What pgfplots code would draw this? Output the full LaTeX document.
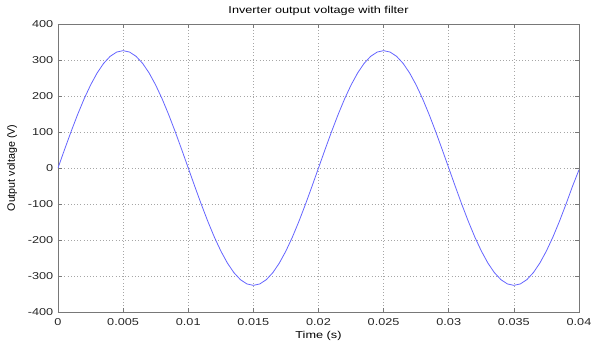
\documentclass[border=0pt]{standalone}
\usepackage{pgfplots}
\pgfplotsset{compat=1.18}
\usepackage{fontspec}
\setmainfont[FakeStretch=1.27]{Liberation Sans}
\newfontfamily\plainsans{Liberation Sans}
\definecolor{linec}{RGB}{100,100,255}
\definecolor{axc}{RGB}{120,120,120}
\begin{document}
\begin{tikzpicture}
\path[use as bounding box] (-43.5pt,-24.75pt) rectangle (401.25pt,234pt);
\begin{axis}[
  at={(0,0)}, anchor=south west,
  scale only axis, width=390.75pt, height=216pt,
  xmin=0, xmax=0.04, ymin=-400, ymax=400,
  xtick={0,0.005,0.01,0.015,0.02,0.025,0.03,0.035,0.04},
  xticklabels={0,0.005,0.01,0.015,0.02,0.025,0.03,0.035,0.04},
  ytick={-400,-300,-200,-100,0,100,200,300,400},
  scaled x ticks=false,
  /pgf/number format/assume math mode=true,
  tick align=inside, major tick length=3pt,
  tick style={axc, line width=0.4pt},
  axis line style={axc, line width=0.7pt},
  grid=major,
  major grid style={dotted, gray!70, line width=0.45pt},
  ticklabel style={font=\fontsize{7.5}{9}\selectfont, text=black!85},
  xticklabel style={yshift=-1pt},
  title={Inverter output voltage with filter},
  title style={font=\fontsize{7.5}{9}\selectfont, yshift=-3.5pt},
  xlabel={Time (s)},
  ylabel={Output voltage (V)},
  xlabel style={font=\fontsize{7.5}{9}\selectfont, yshift=2pt},
  ylabel style={font=\plainsans\fontsize{8}{9}\selectfont, at={(axis description cs:0,0.5)}, anchor=center, yshift=34.5pt},
]
\addplot[linec, line width=0.6pt] coordinates {
(0,0) (0.0005,51.0) (0.001,100.7) (0.0015,148.0) (0.002,191.6) (0.0025,230.5) (0.003,263.7) (0.0035,290.5) (0.004,310.0) (0.0045,322.0) (0.005,326)
(0.0055,322.0) (0.006,310.0) (0.0065,290.5) (0.007,263.7) (0.0075,230.5) (0.008,191.6) (0.0085,148.0) (0.009,100.7) (0.0095,51.0) (0.01,0)
(0.0105,-51.0) (0.011,-100.7) (0.0115,-148.0) (0.012,-191.6) (0.0125,-230.5) (0.013,-263.7) (0.0135,-290.5) (0.014,-310.0) (0.0145,-322.0) (0.015,-326)
(0.0155,-322.0) (0.016,-310.0) (0.0165,-290.5) (0.017,-263.7) (0.0175,-230.5) (0.018,-191.6) (0.0185,-148.0) (0.019,-100.7) (0.0195,-51.0) (0.02,0)
(0.0205,51.0) (0.021,100.7) (0.0215,148.0) (0.022,191.6) (0.0225,230.5) (0.023,263.7) (0.0235,290.5) (0.024,310.0) (0.0245,322.0) (0.025,326)
(0.0255,322.0) (0.026,310.0) (0.0265,290.5) (0.027,263.7) (0.0275,230.5) (0.028,191.6) (0.0285,148.0) (0.029,100.7) (0.0295,51.0) (0.03,0)
(0.0305,-51.0) (0.031,-100.7) (0.0315,-148.0) (0.032,-191.6) (0.0325,-230.5) (0.033,-263.7) (0.0335,-290.5) (0.034,-310.0) (0.0345,-322.0) (0.035,-326)
(0.0355,-322.0) (0.036,-310.0) (0.0365,-290.5) (0.037,-263.7) (0.0375,-230.5) (0.038,-191.6) (0.0385,-148.0) (0.039,-100.7) (0.0395,-51.0) (0.04,-5)
};
\end{axis}
\end{tikzpicture}
\end{document}
